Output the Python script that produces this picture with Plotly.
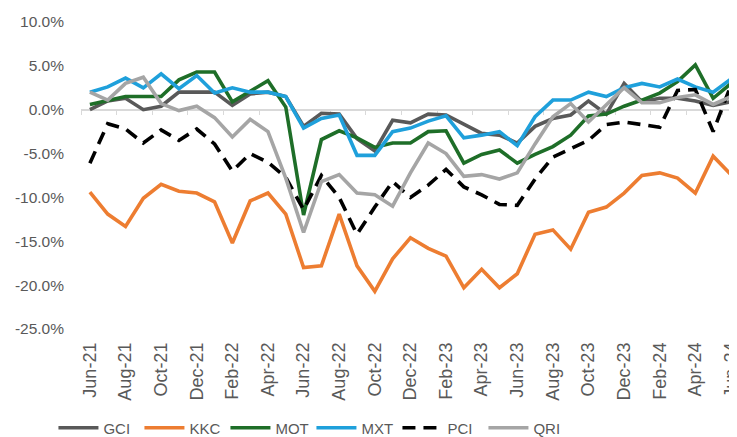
import plotly.graph_objects as go

months = ["Jun-21", "Jul-21", "Aug-21", "Sep-21", "Oct-21", "Nov-21", "Dec-21",
          "Jan-22", "Feb-22", "Mar-22", "Apr-22", "May-22", "Jun-22", "Jul-22",
          "Aug-22", "Sep-22", "Oct-22", "Nov-22", "Dec-22", "Jan-23", "Feb-23",
          "Mar-23", "Apr-23", "May-23", "Jun-23", "Jul-23", "Aug-23", "Sep-23",
          "Oct-23", "Nov-23", "Dec-23", "Jan-24", "Feb-24", "Mar-24", "Apr-24",
          "May-24", "Jun-24"]
tick_labels = months[::2]
y_ticks = [10, 5, 0, -5, -10, -15, -20, -25]
y_tick_labels = ["10.0%", "5.0%", "0.0%", "-5.0%", "-10.0%", "-15.0%", "-20.0%", "-25.0%"]

gci = [0.0, 1.0, 1.3, 0.0, 0.4, 2.0, 2.0, 2.0, 0.5, 1.8, 2.0, 1.5, -1.9, -0.4, -0.5,
       -3.3, -4.7, -1.2, -1.5, -0.5, -0.6, -1.6, -2.7, -2.9, -3.8, -1.9, -1.0, -0.6,
       1.0, -0.5, 3.0, 0.9, 1.3, 1.3, 1.0, 0.5, 0.9]
kkc = [-9.4, -11.9, -13.3, -10.1, -8.5, -9.3, -9.5, -10.5, -15.2, -10.4, -9.5, -11.9,
       -18.0, -17.8, -11.9, -17.8, -20.7, -17.0, -14.6, -15.8, -16.7, -20.3, -18.2,
       -20.3, -18.7, -14.2, -13.7, -15.9, -11.7, -11.1, -9.5, -7.5, -7.2, -7.8, -9.5,
       -5.3, -7.4]
mot = [0.6, 1.0, 1.5, 1.5, 1.5, 3.4, 4.3, 4.3, 0.9, 2.1, 3.3, 0.3, -12.0, -3.4, -2.4,
       -3.2, -4.3, -3.8, -3.8, -2.5, -2.4, -6.1, -5.1, -4.6, -6.1, -5.1, -4.2, -2.9,
       -0.7, -0.5, 0.4, 1.1, 1.9, 3.2, 5.1, 1.3, 3.0]
mxt = [2.0, 2.6, 3.6, 2.5, 4.1, 2.4, 3.9, 1.9, 2.5, 2.0, 2.0, 1.5, -2.1, -1.0, -0.6,
       -5.2, -5.2, -2.5, -2.1, -1.3, -0.7, -3.2, -2.9, -2.5, -4.1, -0.8, 1.1, 1.1,
       2.0, 1.5, 2.5, 3.0, 2.6, 3.5, 2.6, 2.0, 3.5]
pci = [-6.1, -1.6, -2.2, -3.8, -2.3, -3.5, -2.2, -3.9, -7.0, -5.0, -6.0, -7.7, -11.4,
       -7.5, -10.0, -14.2, -11.1, -8.2, -10.0, -8.6, -6.8, -8.8, -9.7, -10.8, -10.9,
       -7.9, -5.4, -4.5, -3.5, -1.7, -1.4, -1.7, -2.0, 2.2, 2.3, -2.5, 2.8]
qri = [2.0, 1.1, 3.0, 3.7, 0.7, -0.1, 0.4, -0.9, -3.1, -1.1, -2.5, -7.8, -14.0, -8.2,
       -7.4, -9.5, -9.7, -11.0, -7.2, -3.8, -5.0, -7.6, -7.4, -7.9, -7.2, -3.9, -0.8,
       0.7, -1.4, 0.5, 2.5, 0.8, 0.8, 1.4, 1.7, 0.6, 1.5]

series = [
    ("GCI", gci, "#595959", "solid"),
    ("KKC", kkc, "#ED7D31", "solid"),
    ("MOT", mot, "#1E6E28", "solid"),
    ("MXT", mxt, "#1FA0DB", "solid"),
    ("PCI", pci, "#000000", "13px,8px"),
    ("QRI", qri, "#A5A5A5", "solid"),
]

FONT = "Liberation Sans, Arial, sans-serif"
TXT = "#595959"

idx = list(range(len(months)))
fig = go.Figure()
for name, vals, color, dash in series:
    fig.add_trace(go.Scatter(
        x=idx, y=vals, name=name, mode="lines",
        line=dict(color=color, width=3.6, dash=dash),
    ))

# axis line with tick marks at the zero level
fig.add_trace(go.Scatter(x=[], y=[], xaxis="x2", yaxis="y", showlegend=False,
                         hoverinfo="skip"))

xr = [-0.5, 36.34]
fig.update_layout(
    width=729, height=429,
    margin=dict(l=73, r=0, t=14, b=108, autoexpand=False),
    paper_bgcolor="white", plot_bgcolor="white",
    font=dict(family=FONT, color=TXT, size=15),
    showlegend=True,
    legend=dict(orientation="h", x=-0.042, xanchor="left", y=-0.3225, yanchor="middle",
                font=dict(size=15, color=TXT, family=FONT),
                entrywidth=31, entrywidthmode="pixels", itemwidth=40,
                bgcolor="rgba(0,0,0,0)"),
    xaxis=dict(range=xr, tickmode="array", tickvals=idx[::2], ticktext=tick_labels,
               tickangle=-90, showgrid=False, zeroline=False, showline=False,
               ticks="", automargin=False, ticklabelstandoff=9,
               ticklabeloverflow="allow",
               tickfont=dict(size=18, color=TXT, family=FONT)),
    xaxis2=dict(overlaying="x", anchor="free", position=25 / 35, range=xr,
                tickmode="array", tickvals=[-0.5] + [v + 1.5 for v in idx[::2]][:-1],
                showticklabels=False, ticks="outside", ticklen=5, tickwidth=1.3,
                tickcolor="#D9D9D9", showline=True, linecolor="#D9D9D9",
                linewidth=1.5, showgrid=False, zeroline=False, layer="below traces",
                automargin=False),
    yaxis=dict(range=[-25, 10], tickmode="array", tickvals=y_ticks,
               ticktext=y_tick_labels, showgrid=False, zeroline=False,
               showline=False, ticks="", ticklabelstandoff=16, automargin=False,
               tickfont=dict(size=15.5, color=TXT, family=FONT)),
)

fig.write_html("out.html")
